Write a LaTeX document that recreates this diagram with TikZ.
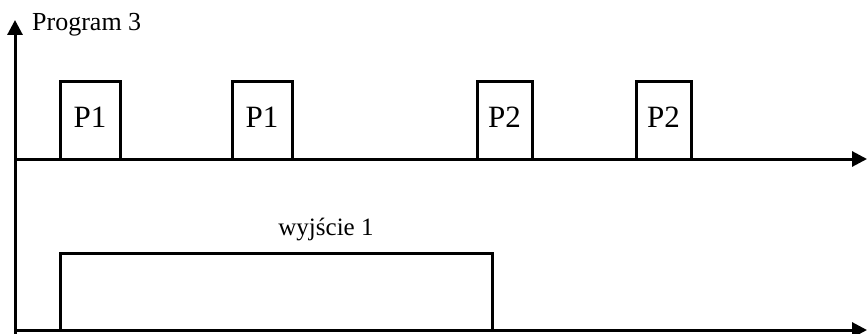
\documentclass[tikz,border=0pt]{standalone}
\usepackage{fontspec}
\setmainfont{Liberation Serif}
\usetikzlibrary{arrows.meta}

\begin{document}
\begin{tikzpicture}[x=1pt,y=-1pt,>={Triangle[length=15pt,width=15pt]}]
  \tikzset{axis/.style  = {line width=3pt,->},
           pulse/.style = {line width=3pt},
           lbl/.style   = {font=\fontsize{31}{34}\selectfont, inner sep=0pt}}
  \useasboundingbox (0,0) rectangle (867,334);

  % osie
  \coordinate (Ybot) at (15,334);
  \coordinate (Ytop) at (15,20);
  \coordinate (Astart) at (15,159);
  \coordinate (Aend) at (867,159);
  \coordinate (Bstart) at (14,330);
  \coordinate (Bend) at (867,330);
  \draw[axis] (Ybot) -- (Ytop);
  \draw[axis] (Astart) -- (Aend);
  \draw[axis] (Bstart) -- (Bend);
  \node[lbl, font=\fontsize{26}{28}\selectfont, anchor=base west] (prog) at (32,31) {Program 3};

  % impulsy programu
  \foreach \xa/\xb/\name [count=\i] in {60/120/P1, 232/292/P1, 477/532/P2, 636/691/P2}
  {
    \draw[pulse] (\xa,159) -- (\xa,82) -- (\xb,82) -- (\xb,159);
    \node[lbl, anchor=base] (p\i) at ({(\xa+\xb)/2},128) {\name};
  }

  % wyjscie
  \draw[pulse] (60,330) -- (60,253) -- (492,253) -- (492,330);
  \node[lbl, font=\fontsize{25}{28}\selectfont, anchor=base] (out) at (326,235) {wyjście 1};
\end{tikzpicture}
\end{document}
